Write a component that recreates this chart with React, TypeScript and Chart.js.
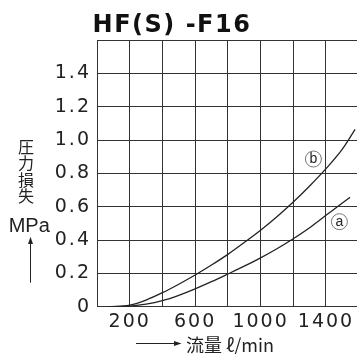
import React, { useEffect, useRef } from "react";
import { Chart, registerables } from "chart.js";

Chart.register(...registerables);

// Flow (ℓ/min) and pressure loss (MPa)
const flowA = [70, 200, 300, 400, 500, 600, 700, 800, 900, 1000, 1100, 1200, 1300, 1400, 1500, 1547];
const lossA = [0, 0.004, 0.015, 0.036, 0.068, 0.107, 0.15, 0.196, 0.243, 0.293, 0.348, 0.408, 0.474, 0.548, 0.622, 0.656];
const flowB = [70, 200, 300, 400, 500, 600, 700, 800, 900, 1000, 1100, 1200, 1300, 1400, 1500, 1578];
const lossB = [0, 0.01, 0.04, 0.084, 0.135, 0.19, 0.25, 0.314, 0.385, 0.459, 0.54, 0.628, 0.724, 0.828, 0.945, 1.064];
const xTickLabels = [200, 600, 1000, 1400];
const yTickValues = [0, 0.2, 0.4, 0.6, 0.8, 1.0, 1.2, 1.4];
const titleText = "HF(S) -F16";
const yTitleChars = ["圧", "力", "損", "失"];
const yUnit = "MPa";
const xTitle = "流量 ℓ/min";
const curveLabels = [
  { text: "b", x: 1323, y: 0.886 },
  { text: "a", x: 1482, y: 0.51 },
];

const W = 400;
const H = 354;
const AREA_LEFT = 97;
const AREA_TOP = 40;
const AREA_BOTTOM = 306.7;
const AREA_RIGHT = 358.7;
const INK = "#222";
const GRID = "#333";

export default function App() {
  const ref = useRef<HTMLCanvasElement | null>(null);

  useEffect(() => {
    const canvas = ref.current;
    if (!canvas) return;

    const decor = {
      id: "decor",
      beforeDraw(chart: any) {
        chart.ctx.letterSpacing = "2px";
      },
      afterDraw(chart: any) {
        const ctx = chart.ctx as CanvasRenderingContext2D;
        const xs = chart.scales.x;
        const ys = chart.scales.y;
        ctx.save();
        ctx.fillStyle = "#111";
        ctx.strokeStyle = "#111";

        // title
        ctx.letterSpacing = "1.5px";
        ctx.font = 'bold 24px "DejaVu Sans"';
        ctx.textAlign = "center";
        ctx.textBaseline = "alphabetic";
        ctx.fillText(titleText, 172, 32.3);

        ctx.letterSpacing = "0px";
        // y title (vertical)
        ctx.fillStyle = INK;
        ctx.font = '16px "Noto Sans CJK JP"';
        ctx.textBaseline = "middle";
        yTitleChars.forEach((c, i) => {
          ctx.fillText(c, 26, 146.5 + i * 16.6);
        });
        ctx.font = '20px "Liberation Sans"';
        ctx.textBaseline = "alphabetic";
        ctx.fillText(yUnit, 29.2, 231.7);

        // up arrow
        ctx.lineWidth = 1;
        ctx.strokeStyle = INK;
        ctx.beginPath();
        ctx.moveTo(30.5, 282.7);
        ctx.lineTo(30.5, 242);
        ctx.stroke();
        ctx.beginPath();
        ctx.moveTo(30.5, 236.7);
        ctx.lineTo(28, 244);
        ctx.lineTo(33, 244);
        ctx.closePath();
        ctx.fill();

        // right arrow + x title
        ctx.beginPath();
        ctx.moveTo(136, 343.5);
        ctx.lineTo(175, 343.5);
        ctx.stroke();
        ctx.beginPath();
        ctx.moveTo(181.5, 343.5);
        ctx.lineTo(174, 341);
        ctx.lineTo(174, 346);
        ctx.closePath();
        ctx.fill();
        ctx.font = '18px "Noto Sans CJK JP"';
        ctx.textAlign = "left";
        ctx.textBaseline = "middle";
        ctx.fillText(xTitle, 186, 345);

        // circled curve labels
        curveLabels.forEach((l) => {
          const px = xs.getPixelForValue(l.x);
          const py = ys.getPixelForValue(l.y);
          ctx.beginPath();
          ctx.lineWidth = 0.8;
          ctx.strokeStyle = "#555";
          ctx.arc(px, py, 8, 0, Math.PI * 2);
          ctx.stroke();
          ctx.font = '14px "Liberation Sans"';
          ctx.textAlign = "center";
          ctx.textBaseline = "middle";
          ctx.fillStyle = INK;
          ctx.fillText(l.text, px, py + 0.5);
        });
        ctx.restore();
      },
    };

    const line = (fx: number[], fy: number[]) => ({
      data: fx.map((x, i) => ({ x, y: fy[i] })),
      borderColor: INK,
      borderWidth: 1.3,
      pointRadius: 0,
      fill: false,
      cubicInterpolationMode: "monotone" as const,
    });

    const chart = new Chart(canvas, {
      type: "line",
      data: { datasets: [line(flowA, lossA), line(flowB, lossB)] },
      options: {
        animation: false,
        responsive: false,
        devicePixelRatio: 1,
        layout: { padding: { left: 0, top: AREA_TOP, right: W - AREA_RIGHT, bottom: 0 } },
        plugins: { legend: { display: false }, tooltip: { enabled: false }, title: { display: false } },
        scales: {
          x: {
            type: "linear",
            min: 0,
            max: 1600,
            afterFit: (s: any) => {
              s.height = H - AREA_BOTTOM;
            },
            ticks: {
              stepSize: 200,
              autoSkip: false,
              maxRotation: 0,
              padding: 4,
              color: INK,
              font: { family: "DejaVu Sans", size: 19 },
              callback: (v: any) => (xTickLabels.includes(Number(v)) ? String(v) : ""),
            },
            grid: { color: GRID, lineWidth: 1, drawTicks: false },
            border: { display: true, color: GRID, width: 1 },
          },
          y: {
            type: "linear",
            min: 0,
            max: 1.6,
            afterFit: (s: any) => {
              s.width = AREA_LEFT;
            },
            ticks: {
              stepSize: 0.2,
              padding: 6,
              color: INK,
              font: { family: "DejaVu Sans", size: 19 },
              callback: (v: any) => {
                const n = Number(v);
                const hit = yTickValues.find((t) => Math.abs(t - n) < 1e-6);
                if (hit === undefined) return "";
                return hit === 0 ? "0" : hit.toFixed(1);
              },
            },
            grid: { color: GRID, lineWidth: 1, drawTicks: false },
            border: { display: true, color: GRID, width: 1 },
          },
        },
      },
      plugins: [decor],
    });
    return () => chart.destroy();
  }, []);

  return (
    <div style={{ position: "fixed", left: 0, top: 0, width: 357, height: 354, overflow: "hidden", background: "#fff" }}>
      <canvas ref={ref} width={W} height={H} style={{ width: W, height: H, display: "block" }} />
    </div>
  );
}
